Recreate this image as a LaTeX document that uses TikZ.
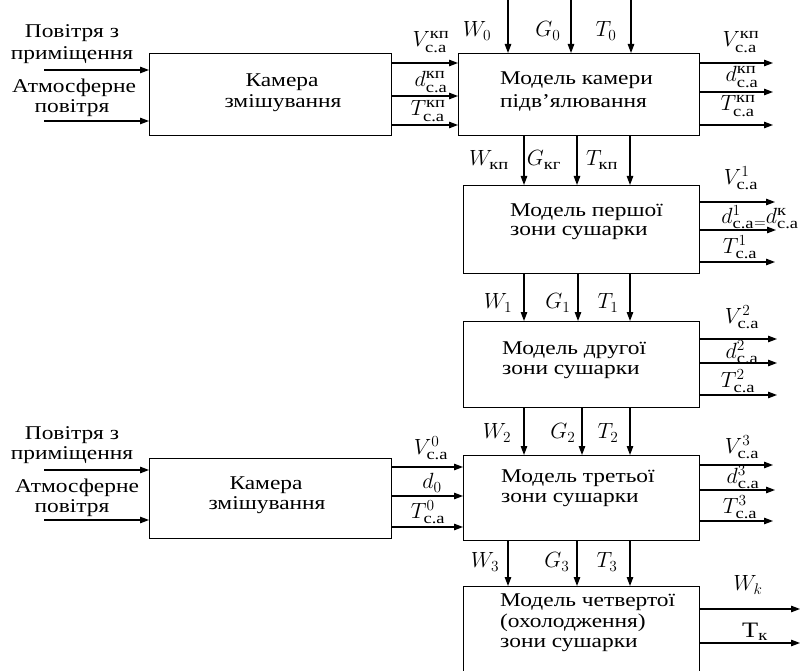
\RequirePackage{fix-cm}
\documentclass[tikz,border=0pt]{standalone}
\usepackage{fontspec}
\usepackage{amsmath}
\setmainfont{Liberation Serif}[FakeStretch=1.2]
\usetikzlibrary{arrows.meta}
\newcommand{\sca}{\text{с.а}}
\newcommand{\skp}{\text{кп}}
\begin{document}
\begin{tikzpicture}[x=1pt,y=-1pt,
  box/.style={draw, line width=1.2pt, anchor=north west, inner sep=0pt},
  arr/.style={line width=1.2pt, -{Triangle[length=9pt,width=6.5pt]}},
  lbl/.style={inner sep=0pt, font=\fontsize{19.5}{22}\selectfont},
  txt/.style={inner sep=0pt, anchor=west, font=\fontsize{19.5}{22}\selectfont},
  ml/.style={inner sep=0pt, font=\fontsize{22}{24}\selectfont}
]
\clip (0,0) rectangle (809,671);
\fill[white] (0,0) rectangle (809,671);

% boxes
\node[box, minimum width=242pt, minimum height=82pt] (b1) at (149,53) {};
\node[box, minimum width=241pt, minimum height=82pt] (b2) at (458,53) {};
\node[box, minimum width=236pt, minimum height=88pt] (b3) at (463,185) {};
\node[box, minimum width=236pt, minimum height=86pt] (b4) at (463,321) {};
\node[box, minimum width=236pt, minimum height=85pt] (b5) at (463,455) {};
\node[box, minimum width=242pt, minimum height=80pt] (b6) at (149,458) {};
\node[box, minimum width=236pt, minimum height=120pt] (b7) at (463,586) {};

% box texts
\node[lbl] (k1a) at (282,82) {Камера};
\node[lbl] (k1b) at (283,103) {змішування};
\node[lbl] (k6a) at (266,485) {Камера};
\node[lbl] (k6b) at (267,505) {змішування};
\node[txt] (t2a) at (500,80) {Модель камери};
\node[txt] (t2b) at (500,103) {підв'ялювання};
\node[txt] (t3a) at (510,212) {Модель першої};
\node[txt] (t3b) at (510,233) {зони сушарки};
\node[txt] (t4a) at (502,350) {Модель другої};
\node[txt] (t4b) at (502,372) {зони сушарки};
\node[txt] (t5a) at (501,478) {Модель третьої};
\node[txt] (t5b) at (501,500) {зони сушарки};
\node[txt] (t7a) at (500,602) {Модель четвертої};
\node[txt] (t7b) at (500,623) {(охолодження)};
\node[txt] (t7c) at (500,645) {зони сушарки};

% left input labels
\node[lbl] (p1) at (72,33) {Повітря з};
\node[lbl] (p2) at (72,55) {приміщення};
\node[lbl] (p3) at (74,88) {Атмосферне};
\node[lbl] (p4) at (72,108) {повітря};
\node[lbl] (q1) at (72,435) {Повітря з};
\node[lbl] (q2) at (72,455) {приміщення};
\node[lbl] (q3) at (77,488) {Атмосферне};
\node[lbl] (q4) at (72,508) {повітря};

% input arrows to chambers
\coordinate (i1) at (44,70);
\coordinate (i2) at (44,121);
\coordinate (i3) at (44,470);
\coordinate (i4) at (44,520);
\draw[arr] (i1) -- (i1 -| b1.west);
\draw[arr] (i2) -- (i2 -| b1.west);
\draw[arr] (i3) -- (i3 -| b6.west);
\draw[arr] (i4) -- (i4 -| b6.west);

% b1 -> b2
\coordinate (y1) at (0,63);
\coordinate (y2) at (0,96);
\coordinate (y3) at (0,125);
\draw[arr] (y1 -| b1.east) -- (y1 -| b2.west);
\draw[arr] (y2 -| b1.east) -- (y2 -| b2.west);
\draw[arr] (y3 -| b1.east) -- (y3 -| b2.west);
\node[ml] (m11) at (431,42) {$V^{\skp}_{\sca}$};
\node[ml] (m12) at (431,82) {$d^{\skp}_{\sca}$};
\node[ml] (m13) at (428,111) {$T^{\skp}_{\sca}$};

% top inputs b2
\coordinate (w0) at (508,0);
\coordinate (g0) at (571,0);
\coordinate (t0) at (631,0);
\draw[arr] (w0) -- (w0 |- b2.north);
\draw[arr] (g0) -- (g0 |- b2.north);
\draw[arr] (t0) -- (t0 |- b2.north);
\node[ml] (mw0) at (477,31) {$W_0$};
\node[ml] (mg0) at (548,31) {$G_0$};
\node[ml] (mt0) at (606,31) {$T_0$};

% b2 outputs
\coordinate (o21) at (773,63);
\coordinate (o22) at (773,92);
\coordinate (o23) at (773,125);
\draw[arr] (o21 -| b2.east) -- (o21);
\draw[arr] (o22 -| b2.east) -- (o22);
\draw[arr] (o23 -| b2.east) -- (o23);
\node[ml] (m21) at (741,42) {$V^{\skp}_{\sca}$};
\node[ml] (m22) at (742,77) {$d^{\skp}_{\sca}$};
\node[ml] (m23) at (738,106) {$T^{\skp}_{\sca}$};

% b2 -> b3
\coordinate (a1) at (524,0);
\coordinate (a2) at (577,0);
\coordinate (a3) at (630,0);
\draw[arr] (a1 |- b2.south) -- (a1 |- b3.north);
\draw[arr] (a2 |- b2.south) -- (a2 |- b3.north);
\draw[arr] (a3 |- b2.south) -- (a3 |- b3.north);
\node[ml] (mwk) at (489,160) {$W_{\skp}$};
\node[ml] (mgk) at (544,160) {$G_{\text{кг}}$};
\node[ml] (mtk) at (602,160) {$T_{\skp}$};

% b3 outputs
\coordinate (o31) at (775,202);
\coordinate (o32) at (776,230);
\coordinate (o33) at (775,262);
\draw[arr] (o31 -| b3.east) -- (o31);
\draw[arr] (o32 -| b3.east) -- (o32);
\draw[arr] (o33 -| b3.east) -- (o33);
\node[ml] (m31) at (741,178) {$V^1_{\sca}$};
\node[ml] (m32) at (760,217) {$d^1_{\sca}\raisebox{-4pt}{$\scriptstyle=$}d^{\text{к}}_{\sca}$};
\node[ml] (m33) at (740,247) {$T^1_{\sca}$};

% b3 -> b4
\coordinate (c1) at (524,0);
\coordinate (c2) at (578,0);
\coordinate (c3) at (630,0);
\draw[arr] (c1 |- b3.south) -- (c1 |- b4.north);
\draw[arr] (c2 |- b3.south) -- (c2 |- b4.north);
\draw[arr] (c3 |- b3.south) -- (c3 |- b4.north);
\node[ml] (mw1) at (498,303) {$W_1$};
\node[ml] (mg1) at (558,303) {$G_1$};
\node[ml] (mt1) at (608,303) {$T_1$};

% b4 outputs
\coordinate (o41) at (777,339);
\coordinate (o42) at (777,363);
\coordinate (o43) at (777,395);
\draw[arr] (o41 -| b4.east) -- (o41);
\draw[arr] (o42 -| b4.east) -- (o42);
\draw[arr] (o43 -| b4.east) -- (o43);
\node[ml] (m41) at (742,317) {$V^2_{\sca}$};
\node[ml] (m42) at (742,352) {$d^2_{\sca}$};
\node[ml] (m43) at (738,381) {$T^2_{\sca}$};

% b4 -> b5
\coordinate (e1) at (524,0);
\coordinate (e2) at (582,0);
\coordinate (e3) at (630,0);
\draw[arr] (e1 |- b4.south) -- (e1 |- b5.north);
\draw[arr] (e2 |- b4.south) -- (e2 |- b5.north);
\draw[arr] (e3 |- b4.south) -- (e3 |- b5.north);
\node[ml] (mw2) at (497,433) {$W_2$};
\node[ml] (mg2) at (563,433) {$G_2$};
\node[ml] (mt2) at (608,433) {$T_2$};

% b5 outputs
\coordinate (o51) at (773,465);
\coordinate (o52) at (775,490);
\coordinate (o53) at (773,521);
\draw[arr] (o51 -| b5.east) -- (o51);
\draw[arr] (o52 -| b5.east) -- (o52);
\draw[arr] (o53 -| b5.east) -- (o53);
\node[ml] (m51) at (742,447) {$V^3_{\sca}$};
\node[ml] (m52) at (743,477) {$d^3_{\sca}$};
\node[ml] (m53) at (740,507) {$T^3_{\sca}$};

% b6 -> b5
\coordinate (z1) at (0,467);
\coordinate (z2) at (0,496);
\coordinate (z3) at (0,527);
\draw[arr] (z1 -| b6.east) -- (z1 -| b5.west);
\draw[arr] (z2 -| b6.east) -- (z2 -| b5.west);
\draw[arr] (z3 -| b6.east) -- (z3 -| b5.west);
\node[ml] (m61) at (431,448) {$V^0_{\sca}$};
\node[ml] (m62) at (432,483) {$d_0$};
\node[ml] (m63) at (428,512) {$T^0_{\sca}$};

% b5 -> b7
\coordinate (f1) at (508,0);
\coordinate (f2) at (577,0);
\coordinate (f3) at (630,0);
\draw[arr] (f1 |- b5.south) -- (f1 |- b7.north);
\draw[arr] (f2 |- b5.south) -- (f2 |- b7.north);
\draw[arr] (f3 |- b5.south) -- (f3 |- b7.north);
\node[ml] (mw3) at (485,562) {$W_3$};
\node[ml] (mg3) at (557,562) {$G_3$};
\node[ml] (mt3) at (607,562) {$T_3$};

% b7 outputs
\coordinate (o71) at (800,609);
\coordinate (o72) at (800,643);
\draw[arr] (o71 -| b7.east) -- (o71);
\draw[arr] (o72 -| b7.east) -- (o72);
\node[ml] (m71) at (748,585) {$W_k$};
\node[ml] (m72) at (755,632) {Т$_{\text{к}}$};
\end{tikzpicture}
\end{document}
